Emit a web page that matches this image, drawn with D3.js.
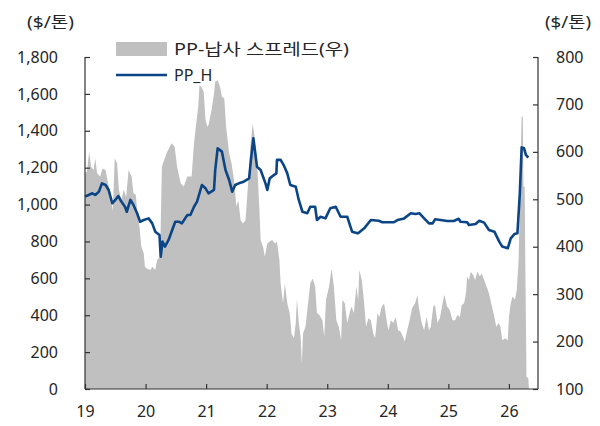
<!DOCTYPE html>
<html>
<head>
<meta charset="utf-8">
<script src="https://cdn.jsdelivr.net/npm/d3@7"></script>
<style>
  body { margin: 0; background: #fff; }
  svg text { font-family: "Noto Sans", "Noto Sans CJK KR", sans-serif; fill: #262626; }
</style>
</head>
<body>
<script>
// PP-naphtha spread (right axis, $/ton) - [year, value]
const spread = [
  [19.00,555],[19.03,558],[19.07,600],[19.10,569],[19.14,562],[19.17,586],[19.20,555],[19.25,548],
  [19.29,565],[19.34,562],[19.38,534],[19.42,516],[19.46,474],[19.49,586],[19.53,576],[19.56,520],
  [19.60,498],[19.64,520],[19.68,505],[19.72,562],[19.77,548],[19.80,513],[19.84,509],[19.87,463],
  [19.90,442],[19.93,400],[19.97,386],[19.99,358],[20.02,354],[20.08,351],[20.11,358],[20.16,351],
  [20.19,372],[20.24,379],[20.27,569],[20.35,598],[20.43,618],[20.48,611],[20.52,569],[20.58,534],
  [20.63,527],[20.69,548],[20.76,548],[20.80,618],[20.83,653],[20.87,695],[20.89,741],[20.92,737],
  [20.96,727],[20.99,667],[21.02,653],[21.04,657],[21.09,688],[21.13,723],[21.15,748],[21.19,751],
  [21.23,737],[21.26,716],[21.30,713],[21.33,653],[21.38,597],[21.42,576],[21.46,541],[21.50,484],
  [21.53,498],[21.57,456],[21.61,449],[21.65,456],[21.69,527],[21.73,611],[21.77,660],[21.80,632],
  [21.84,583],[21.88,477],[21.90,414],[21.94,400],[21.97,379],[22.01,407],[22.05,411],[22.09,414],
  [22.14,407],[22.17,411],[22.21,372],[22.23,323],[22.27,281],[22.30,323],[22.34,281],[22.38,260],
  [22.41,217],[22.45,207],[22.48,239],[22.50,291],[22.53,239],[22.56,210],[22.58,154],[22.60,217],
  [22.64,231],[22.69,288],[22.72,323],[22.76,333],[22.80,316],[22.83,260],[22.87,256],[22.92,245],
  [22.95,210],[22.98,288],[23.03,316],[23.07,354],[23.11,316],[23.15,245],[23.19,231],[23.23,203],
  [23.25,288],[23.29,281],[23.33,239],[23.37,260],[23.40,274],[23.44,260],[23.46,288],[23.48,316],
  [23.51,288],[23.53,351],[23.57,330],[23.61,281],[23.64,231],[23.68,249],[23.72,245],[23.76,217],
  [23.79,207],[23.83,260],[23.86,252],[23.90,274],[23.94,281],[23.98,245],[24.01,224],[24.05,245],
  [24.09,239],[24.13,252],[24.17,224],[24.21,221],[24.25,210],[24.28,200],[24.32,224],[24.36,245],
  [24.40,270],[24.45,281],[24.49,298],[24.51,274],[24.56,239],[24.60,224],[24.64,252],[24.68,224],
  [24.71,231],[24.75,274],[24.78,277],[24.82,239],[24.86,249],[24.89,270],[24.93,298],[24.94,295],
  [24.98,274],[25.02,267],[25.07,245],[25.11,245],[25.15,256],[25.19,252],[25.22,277],[25.26,281],
  [25.29,302],[25.31,337],[25.34,330],[25.37,347],[25.41,340],[25.44,330],[25.48,347],[25.52,337],
  [25.55,344],[25.59,330],[25.63,316],[25.67,302],[25.72,274],[25.76,252],[25.79,231],[25.83,239],
  [25.86,231],[25.89,203],[25.94,207],[25.98,203],[26.00,252],[26.03,281],[26.06,295],[26.10,288],
  [26.13,309],[26.16,372],[26.18,498],[26.20,618],[26.21,674],[26.23,674],[26.24,527],[26.26,527],
  [26.27,372],[26.29,126],[26.32,123],[26.33,102]
];

// PP_H price (left axis, $/ton) - [year, value]
const ppH = [
  [19.00,1043],[19.06,1052],[19.12,1061],[19.17,1052],[19.23,1070],[19.28,1115],[19.34,1106],[19.39,1079],
  [19.45,1007],[19.50,1025],[19.55,1046],[19.60,1016],[19.66,988],[19.69,961],[19.75,1025],[19.80,998],
  [19.86,953],[19.91,907],[19.97,916],[20.05,925],[20.11,898],[20.16,853],[20.23,835],[20.25,717],
  [20.28,799],[20.32,772],[20.38,808],[20.44,862],[20.49,907],[20.55,907],[20.60,898],[20.69,943],
  [20.74,943],[20.80,988],[20.85,1016],[20.93,1106],[20.99,1088],[21.04,1061],[21.13,1079],[21.15,1187],
  [21.19,1305],[21.26,1287],[21.32,1187],[21.38,1133],[21.43,1070],[21.48,1106],[21.54,1115],[21.62,1124],
  [21.71,1142],[21.74,1242],[21.78,1359],[21.84,1205],[21.90,1187],[21.98,1115],[22.01,1079],[22.05,1142],
  [22.12,1160],[22.16,1169],[22.17,1242],[22.23,1242],[22.28,1214],[22.34,1169],[22.39,1106],[22.48,1097],
  [22.53,1025],[22.59,961],[22.67,953],[22.72,988],[22.80,988],[22.83,916],[22.89,934],[22.97,925],
  [23.05,980],[23.14,988],[23.22,934],[23.33,934],[23.41,853],[23.50,844],[23.52,847],[23.61,871],
  [23.72,916],[23.85,912],[23.91,904],[24.10,904],[24.16,916],[24.27,925],[24.38,953],[24.46,949],
  [24.52,953],[24.60,925],[24.68,898],[24.74,898],[24.78,920],[24.87,916],[24.98,911],[25.09,911],
  [25.17,923],[25.20,907],[25.31,904],[25.34,889],[25.45,895],[25.51,912],[25.59,902],[25.67,862],
  [25.76,853],[25.84,799],[25.89,772],[25.98,763],[26.03,817],[26.09,840],[26.14,844],[26.18,1061],
  [26.21,1310],[26.25,1305],[26.28,1269],[26.32,1254]
];

const yearTicks = [19, 20, 21, 22, 23, 24, 25, 26];
const leftTicks = [0, 200, 400, 600, 800, 1000, 1200, 1400, 1600, 1800];
const rightTicks = [100, 200, 300, 400, 500, 600, 700, 800];
const legendLabels = ["PP-납사 스프레드(우)", "PP_H"];
const unitLabel = "($/톤)";

const W = 600, H = 426;
const plot = { left: 85, right: 538, top: 57, bottom: 389 };

const svg = d3.select("body").append("svg")
    .attr("width", W)
    .attr("height", H);

const x = d3.scaleLinear().domain([19, 26.48]).range([plot.left, plot.right]);
const yL = d3.scaleLinear().domain([0, 1800]).range([plot.bottom, plot.top]);
const yR = d3.scaleLinear().domain([100, 800]).range([plot.bottom, plot.top]);

// spread area (right axis)
const area = d3.area()
    .x(d => x(d[0]))
    .y0(yR(100))
    .y1(d => yR(d[1]));

svg.append("path")
    .datum(spread)
    .attr("d", area)
    .attr("fill", "#c0c0c0");

// PP_H line (left axis)
const line = d3.line()
    .x(d => x(d[0]))
    .y(d => yL(d[1]));

svg.append("path")
    .datum(ppH)
    .attr("d", line)
    .attr("fill", "none")
    .attr("stroke", "#0b4586")
    .attr("stroke-width", 2.6)
    .attr("stroke-linejoin", "round");

// axes - ticks point inward
const axisColor = "#333";
const fmt = d3.format(",");

const gL = svg.append("g").attr("transform", `translate(${plot.left},0)`)
    .call(d3.axisLeft(yL).tickValues(leftTicks).tickSize(-5).tickPadding(27).tickFormat(fmt));
const gR = svg.append("g").attr("transform", `translate(${plot.right},0)`)
    .call(d3.axisRight(yR).tickValues(rightTicks).tickSize(-5).tickPadding(18));
const gB = svg.append("g").attr("transform", `translate(0,${plot.bottom})`)
    .call(d3.axisBottom(x).tickValues(yearTicks).tickSize(-5).tickPadding(17));

[gL, gR, gB].forEach(g => {
    g.select(".domain").attr("stroke", axisColor).attr("stroke-width", 1.2);
    g.selectAll(".tick line").attr("stroke", axisColor).attr("stroke-width", 1.2);
    g.selectAll(".tick text").attr("font-size", 16).attr("fill", "#262626");
});
// no outer tick stubs on the domain
gL.select(".domain").attr("d", `M0,${plot.top}V${plot.bottom}`);
gR.select(".domain").attr("d", `M0,${plot.top}V${plot.bottom}`);
gB.select(".domain").attr("d", `M${plot.left},0H${plot.right}`);

// unit labels
svg.append("text").attr("x", 27).attr("y", 28).attr("font-size", 16)
    .attr("textLength", 47).attr("lengthAdjust", "spacingAndGlyphs").text(unitLabel);
svg.append("text").attr("x", 545).attr("y", 28).attr("font-size", 16)
    .attr("textLength", 46).attr("lengthAdjust", "spacingAndGlyphs").text(unitLabel);

// legend
const lg = svg.append("g");
lg.append("rect").attr("x", 116).attr("y", 42).attr("width", 51).attr("height", 14).attr("fill", "#c0c0c0");
lg.append("text").attr("x", 174).attr("y", 49).attr("dy", "0.35em").attr("font-size", 16)
    .attr("textLength", 175).attr("lengthAdjust", "spacingAndGlyphs").text(legendLabels[0]);
lg.append("line").attr("x1", 116).attr("x2", 167).attr("y1", 75).attr("y2", 75)
    .attr("stroke", "#0b4586").attr("stroke-width", 2.6);
lg.append("text").attr("x", 174).attr("y", 75).attr("dy", "0.35em").attr("font-size", 16).text(legendLabels[1]);
</script>
</body>
</html>
